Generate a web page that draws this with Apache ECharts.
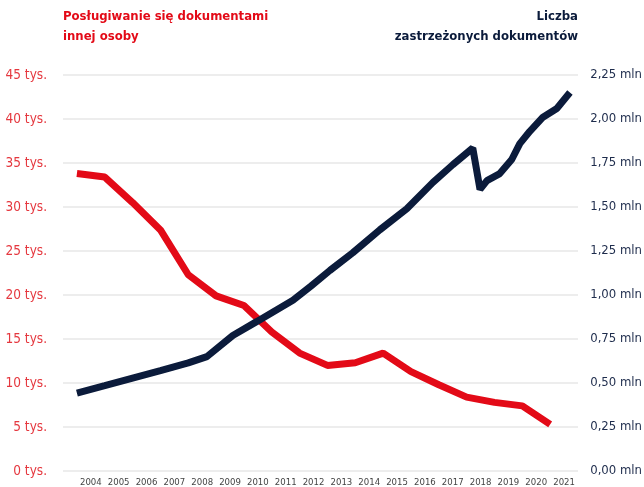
<!DOCTYPE html>
<html>
<head>
<meta charset="utf-8">
<script src="https://cdn.jsdelivr.net/npm/echarts@6/dist/echarts.min.js"></script>
<style>
html,body{margin:0;padding:0;background:#fff;}
#chart{width:644px;height:487px;}
</style>
</head>
<body>
<div id="chart"></div>
<script>
// Red series: "Posługiwanie się dokumentami innej osoby" (thousands), one value per year
var redYears = [2004,2005,2006,2007,2008,2009,2010,2011,2012,2013,2014,2015,2016,2017,2018,2019,2020,2021];
var redValues = [33.8,33.4,30.5,27.4,22.3,19.9,18.8,15.8,13.4,12.0,12.3,13.4,11.3,9.8,8.4,7.8,7.4,5.3];

// Navy series: "Liczba zastrzeżonych dokumentów" (millions), read at decimal-year positions
var navyYears = [2004.0,2005.0,2006.0,2007.0,2008.0,2008.67,2009.6,2010.47,2011.76,2012.4,2013.09,2013.91,2014.88,2015.85,2016.79,2017.5,2018.22,2018.48,2018.73,2019.19,2019.62,2019.91,2020.27,2020.74,2021.24,2021.71];
var navyValues = [0.443,0.485,0.528,0.57,0.614,0.65,0.77,0.85,0.97,1.05,1.14,1.24,1.37,1.49,1.64,1.74,1.835,1.60,1.65,1.69,1.77,1.86,1.93,2.01,2.06,2.15];

// Axis labels
var yearLabels = ['2004','2005','2006','2007','2008','2009','2010','2011','2012','2013','2014','2015','2016','2017','2018','2019','2020','2021'];

var FONT = '"DejaVu Sans Condensed","Liberation Sans Narrow",sans-serif';
var RED = '#e30a17';
var NAVY = '#0b1b3b';

var chart = echarts.init(document.getElementById('chart'), null, {renderer:'canvas'});
var option = {
  backgroundColor: '#ffffff',
  animation: false,
  title: [
    {
      text: 'Posługiwanie się dokumentami\ninnej osoby',
      left: 63, top: 7, padding: 0,
      textStyle: {fontFamily: FONT, fontSize: 13, fontWeight: 'bold', color: RED, lineHeight: 20}
    }
  ],
  graphic: [
    {
      type: 'text', x: 578, y: 7, z: 10,
      style: {
        text: 'Liczba\nzastrzeżonych dokumentów',
        textAlign: 'right', textVerticalAlign: 'top',
        font: 'bold 13px ' + FONT, lineHeight: 20, fill: NAVY
      }
    }
  ],
  grid: {left: 63, right: 66, top: 75, bottom: 16, containLabel: false, outerBoundsMode: 'none'},
  xAxis: [
    {
      type: 'value', min: 2003.5, max: 2022,
      axisLine: {show: false}, axisTick: {show: false}, axisLabel: {show: false}, splitLine: {show: false}
    },
    {
      type: 'value', min: 2003, max: 2021.5, interval: 1, position: 'bottom',
      axisLine: {show: false}, axisTick: {show: false}, splitLine: {show: false},
      axisLabel: {
        margin: 7, fontFamily: FONT, fontSize: 9.5, color: '#444444',
        formatter: function (v) {
          var idx = yearLabels.indexOf(String(v));
          return idx >= 0 ? yearLabels[idx] : '';
        }
      }
    }
  ],
  yAxis: [
    {
      type: 'value', min: 0, max: 45, interval: 5, position: 'left',
      axisLine: {show: false}, axisTick: {show: false},
      splitLine: {show: true, lineStyle: {color: '#ededed', width: 2}},
      axisLabel: {
        margin: 16, fontFamily: FONT, fontSize: 13.5, color: '#e5383f',
        formatter: function (v) { return v + ' tys.'; }
      }
    },
    {
      type: 'value', min: 0, max: 2.25, interval: 0.25, position: 'right',
      axisLine: {show: false}, axisTick: {show: false}, splitLine: {show: false},
      axisLabel: {
        margin: 64, align: 'right', fontFamily: FONT, fontSize: 13, color: '#1e2c4c',
        formatter: function (v) { return v.toFixed(2).replace('.', ',') + ' mln'; }
      }
    }
  ],
  series: [
    {
      name: 'Posługiwanie się dokumentami innej osoby',
      type: 'line', xAxisIndex: 0, yAxisIndex: 0, z: 2,
      showSymbol: false, symbol: 'none',
      lineStyle: {color: RED, width: 7},
      data: redYears.map(function (y, i) { return [y, redValues[i]]; })
    },
    {
      name: 'Liczba zastrzeżonych dokumentów',
      type: 'line', xAxisIndex: 0, yAxisIndex: 1, z: 3,
      showSymbol: false, symbol: 'none',
      lineStyle: {color: NAVY, width: 7},
      data: navyYears.map(function (y, i) { return [y, navyValues[i]]; })
    }
  ]
};
chart.setOption(option);
</script>
</body>
</html>
